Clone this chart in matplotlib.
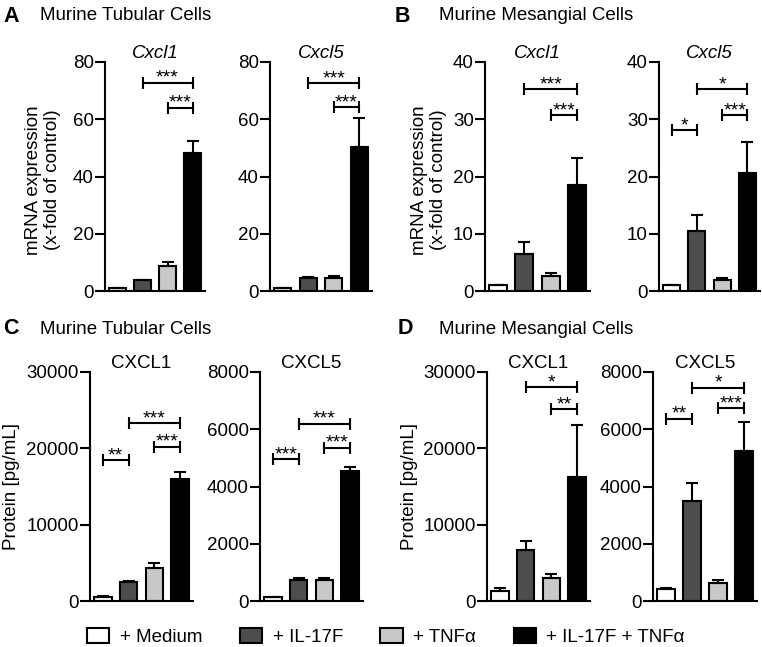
import matplotlib
matplotlib.use("Agg")
import matplotlib.pyplot as plt
from matplotlib.patches import Patch

plt.rcParams['font.family'] = ['Liberation Sans', 'DejaVu Sans']

conditions = ['+ Medium', '+ IL-17F', '+ TNF\u03b1', '+ IL-17F + TNF\u03b1']
bar_colors = ['white', '#4d4d4d', '#c8c8c8', 'black']

# A: murine tubular cells, mRNA (x-fold of control)
a_cxcl1 = [1.0, 3.8, 8.8, 48.3]
a_cxcl1_err = [0.1, 0.2, 1.2, 4.1]
a_cxcl5 = [1.0, 4.6, 4.4, 50.4]
a_cxcl5_err = [0.1, 0.3, 0.9, 9.9]
# B: murine mesangial cells, mRNA
b_cxcl1 = [1.0, 6.4, 2.6, 18.6]
b_cxcl1_err = [0.05, 2.2, 0.5, 4.7]
b_cxcl5 = [1.0, 10.5, 2.0, 20.6]
b_cxcl5_err = [0.05, 2.8, 0.3, 5.4]
# C: murine tubular cells, protein pg/mL
c_cxcl1 = [560, 2450, 4360, 15980]
c_cxcl1_err = [60, 210, 580, 960]
c_cxcl5 = [130, 735, 725, 4555]
c_cxcl5_err = [15, 70, 90, 115]
# D: murine mesangial cells, protein pg/mL
d_cxcl1 = [1310, 6680, 2970, 16280]
d_cxcl1_err = [350, 1220, 570, 6780]
d_cxcl5 = [420, 3500, 640, 5250]
d_cxcl5_err = [20, 610, 95, 990]

# significance brackets: (from bar, to bar, height, label)
a_cxcl1_sig = [(1, 3, 72.8, '***'), (2, 3, 64.0, '***')]
a_cxcl5_sig = [(1, 3, 72.6, '***'), (2, 3, 64.2, '***')]
b_cxcl1_sig = [(1, 3, 35.2, '***'), (2, 3, 30.7, '***')]
b_cxcl5_sig = [(0, 1, 28.1, '*'), (1, 3, 35.2, '*'), (2, 3, 30.7, '***')]
c_cxcl1_sig = [(0, 1, 18470, '**'), (1, 3, 23280, '***'), (2, 3, 20220, '***')]
c_cxcl5_sig = [(0, 1, 4950, '***'), (1, 3, 6200, '***'), (2, 3, 5350, '***')]
d_cxcl1_sig = [(1, 3, 28000, '*'), (2, 3, 25110, '**')]
d_cxcl5_sig = [(0, 1, 6360, '**'), (1, 3, 7450, '*'), (2, 3, 6730, '***')]

W, H = 762, 647
FS = 13.5
fig = plt.figure(figsize=(W / 100, H / 100), dpi=100)


def add_ax(x0, x1, ytop, ybot):
    return fig.add_axes([x0 / W, 1 - ybot / H, (x1 - x0) / W, (ybot - ytop) / H])


def draw(ax, vals, errs, sigs, title, ymax, step, italic):
    x = range(len(vals))
    ax.bar(x, vals, width=0.68, color=bar_colors, edgecolor='black', linewidth=1.5, zorder=2)
    ax.errorbar(x, vals, yerr=[[0] * len(errs), errs], fmt='none', ecolor='black',
                elinewidth=1.5, capsize=4, capthick=1.5, zorder=3)
    for i, j, y, lab in sigs:
        ax.plot([i, j], [y, y], color='black', lw=1.5, marker='|', markersize=8,
                markeredgewidth=1.5, clip_on=False)
        ax.annotate(lab, ((i + j) / 2, y), xytext=(0, 0), textcoords='offset points',
                    ha='center', va='baseline', fontsize=14)
    ax.set_xlim(-0.5, 3.5)
    ax.set_ylim(0, ymax)
    ax.set_yticks(range(0, ymax + 1, step))
    ax.set_xticks([])
    for s in ['top', 'right']:
        ax.spines[s].set_visible(False)
    for s in ['left', 'bottom']:
        ax.spines[s].set_linewidth(1.5)
    ax.tick_params(axis='y', length=7, width=1.5, pad=1, labelsize=FS)
    ax.set_title(title, fontsize=FS, style='italic' if italic else 'normal', pad=3)


r1 = (62, 291)
r2 = (372, 601)
draw(add_ax(105, 205, *r1), a_cxcl1, a_cxcl1_err, a_cxcl1_sig, 'Cxcl1', 80, 20, True)
draw(add_ax(270, 372, *r1), a_cxcl5, a_cxcl5_err, a_cxcl5_sig, 'Cxcl5', 80, 20, True)
draw(add_ax(485, 590, *r1), b_cxcl1, b_cxcl1_err, b_cxcl1_sig, 'Cxcl1', 40, 10, True)
draw(add_ax(659, 760, *r1), b_cxcl5, b_cxcl5_err, b_cxcl5_sig, 'Cxcl5', 40, 10, True)
draw(add_ax(90, 193, *r2), c_cxcl1, c_cxcl1_err, c_cxcl1_sig, 'CXCL1', 30000, 10000, False)
draw(add_ax(260, 363, *r2), c_cxcl5, c_cxcl5_err, c_cxcl5_sig, 'CXCL5', 8000, 2000, False)
draw(add_ax(487, 590, *r2), d_cxcl1, d_cxcl1_err, d_cxcl1_sig, 'CXCL1', 30000, 10000, False)
draw(add_ax(653, 757, *r2), d_cxcl5, d_cxcl5_err, d_cxcl5_sig, 'CXCL5', 8000, 2000, False)

# panel letters and group titles
for lx, tx, yy, letter, name in [(3, 40, 16, 'A', 'Murine Tubular Cells'),
                                 (395, 439, 16, 'B', 'Murine Mesangial Cells'),
                                 (3, 40, 329, 'C', 'Murine Tubular Cells'),
                                 (398, 439, 329, 'D', 'Murine Mesangial Cells')]:
    fig.text(lx / W, 1 - yy / H, letter, fontsize=15.5, fontweight='bold', va='center')
    fig.text(tx / W, 1 - yy / H, name, fontsize=FS, va='center')

fig.text(43 / W, 1 - 180 / H, 'mRNA expression\n(x-fold of control)', rotation=90,
         ha='center', va='center', fontsize=FS, linespacing=1.1)
fig.text(429 / W, 1 - 180 / H, 'mRNA expression\n(x-fold of control)', rotation=90,
         ha='center', va='center', fontsize=FS, linespacing=1.1)
fig.text(12 / W, 1 - 486 / H, 'Protein [pg/mL]', rotation=90, ha='center', va='center', fontsize=FS)
fig.text(409 / W, 1 - 486 / H, 'Protein [pg/mL]', rotation=90, ha='center', va='center', fontsize=FS)

handles = [Patch(facecolor=c, edgecolor='black', linewidth=1.5) for c in bar_colors]
fig.legend(handles, conditions, loc='center', bbox_to_anchor=(386 / W, 1 - 637 / H), ncol=4,
           frameon=False, fontsize=FS, handlelength=1.2, handleheight=0.85,
           handletextpad=0.55, columnspacing=2.0, borderpad=0, borderaxespad=0)

fig.savefig('out.png', dpi=100)
